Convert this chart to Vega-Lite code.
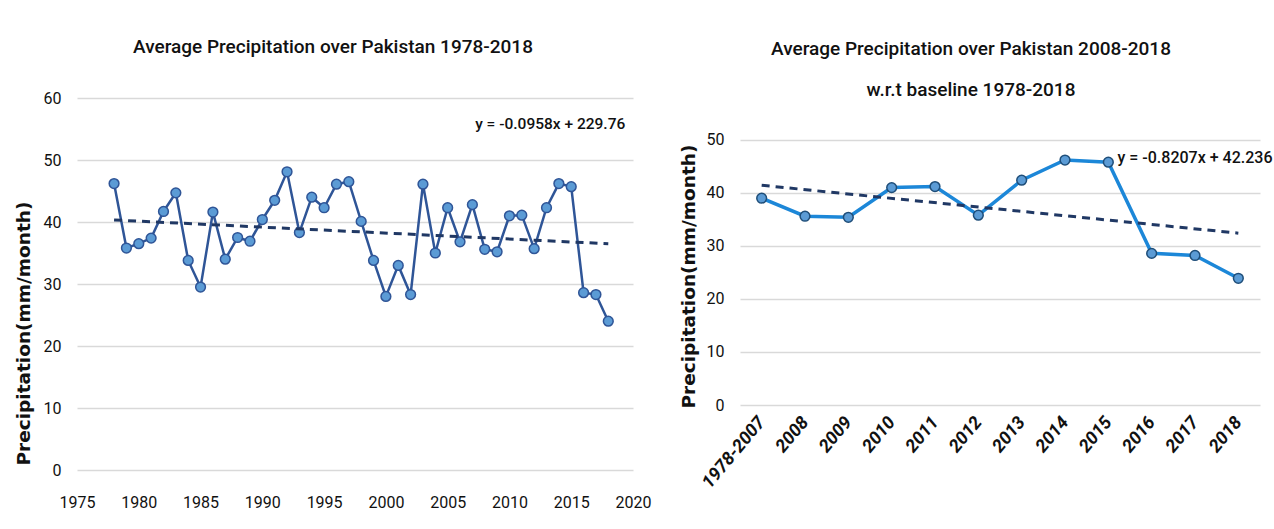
{
  "$schema": "https://vega.github.io/schema/vega-lite/v6.json",
  "background": "white",
  "padding": {"left": 14, "top": 38, "right": 12, "bottom": 5},
  "spacing": 28,
  "datasets": {
    "annual": [
      {"year": 1978, "value": 46.2}, {"year": 1979, "value": 35.8}, {"year": 1980, "value": 36.5},
      {"year": 1981, "value": 37.4}, {"year": 1982, "value": 41.7}, {"year": 1983, "value": 44.7},
      {"year": 1984, "value": 33.8}, {"year": 1985, "value": 29.5}, {"year": 1986, "value": 41.6},
      {"year": 1987, "value": 34.0}, {"year": 1988, "value": 37.5}, {"year": 1989, "value": 36.9},
      {"year": 1990, "value": 40.4}, {"year": 1991, "value": 43.5}, {"year": 1992, "value": 48.1},
      {"year": 1993, "value": 38.3}, {"year": 1994, "value": 44.0}, {"year": 1995, "value": 42.3},
      {"year": 1996, "value": 46.1}, {"year": 1997, "value": 46.5}, {"year": 1998, "value": 40.1},
      {"year": 1999, "value": 33.8}, {"year": 2000, "value": 28.0}, {"year": 2001, "value": 33.0},
      {"year": 2002, "value": 28.3}, {"year": 2003, "value": 46.1}, {"year": 2004, "value": 35.0},
      {"year": 2005, "value": 42.3}, {"year": 2006, "value": 36.8}, {"year": 2007, "value": 42.8},
      {"year": 2008, "value": 35.6}, {"year": 2009, "value": 35.2}, {"year": 2010, "value": 41.0},
      {"year": 2011, "value": 41.1}, {"year": 2012, "value": 35.7}, {"year": 2013, "value": 42.3},
      {"year": 2014, "value": 46.2}, {"year": 2015, "value": 45.7}, {"year": 2016, "value": 28.6},
      {"year": 2017, "value": 28.3}, {"year": 2018, "value": 24.0}
    ],
    "period": [
      {"i": 1, "period": "1978-2007", "value": 39.0}, {"i": 2, "period": "2008", "value": 35.6},
      {"i": 3, "period": "2009", "value": 35.4}, {"i": 4, "period": "2010", "value": 41.0},
      {"i": 5, "period": "2011", "value": 41.2}, {"i": 6, "period": "2012", "value": 35.8},
      {"i": 7, "period": "2013", "value": 42.4}, {"i": 8, "period": "2014", "value": 46.2},
      {"i": 9, "period": "2015", "value": 45.8}, {"i": 10, "period": "2016", "value": 28.6},
      {"i": 11, "period": "2017", "value": 28.2}, {"i": 12, "period": "2018", "value": 23.9}
    ],
    "eqLeft": [{"year": 2013.3, "value": 55.8, "label": "y = -0.0958x + 229.76"}],
    "eqRight": [{"i": 11.0, "value": 46.6, "label": "y = -0.8207x + 42.236"}]
  },
  "config": {
    "view": {"stroke": null},
    "font": "Roboto, sans-serif",
    "title": {"font": "Roboto, sans-serif", "fontSize": 19, "fontWeight": 500, "color": "#111111", "lineHeight": 41},
    "axis": {
      "domain": false, "ticks": false,
      "labelFont": "Roboto, sans-serif",
      "labelFontSize": 15, "labelColor": "#111111",
      "titleFont": "DejaVu Sans, sans-serif", "titleFontSize": 18.5, "titleFontWeight": "bold", "titleColor": "#111111",
      "gridColor": "#d9d9d9", "gridWidth": 1.5
    }
  },
  "hconcat": [
    {
      "width": 556, "height": 372,
      "title": {"text": "Average Precipitation over Pakistan 1978-2018", "offset": 33, "dx": -22},
      "layer": [
        {
          "data": {"name": "annual"},
          "mark": {"type": "line", "color": "#2F5597", "strokeWidth": 2.5,
                   "point": {"filled": true, "fill": "#5B9BD5", "stroke": "#2F5597", "strokeWidth": 1.5, "size": 95, "opacity": 1}},
          "encoding": {
            "x": {"field": "year", "type": "quantitative", "scale": {"domain": [1975, 2020], "nice": false, "zero": false},
                  "axis": {"values": [1975, 1980, 1985, 1990, 1995, 2000, 2005, 2010, 2015, 2020], "format": "d", "grid": false, "title": null, "labelPadding": 24, "labelFlush": false, "labelFontSize": 16}},
            "y": {"field": "value", "type": "quantitative", "scale": {"domain": [0, 60], "nice": false},
                  "axis": {"values": [0, 10, 20, 30, 40, 50, 60], "title": "Precipitation(mm/month)", "titleY": 235, "labelPadding": 16, "titlePadding": 10, "labelFontSize": 16}}
          }
        },
        {
          "data": {"name": "annual"},
          "transform": [{"regression": "value", "on": "year"}],
          "mark": {"type": "line", "color": "#203864", "strokeWidth": 3, "strokeDash": [8, 6]},
          "encoding": {
            "x": {"field": "year", "type": "quantitative"},
            "y": {"field": "value", "type": "quantitative"}
          }
        },
        {
          "data": {"name": "eqLeft"},
          "mark": {"type": "text", "fontSize": 15.5, "fontWeight": 500, "color": "#111111", "align": "center", "baseline": "middle"},
          "encoding": {
            "x": {"field": "year", "type": "quantitative"},
            "y": {"field": "value", "type": "quantitative"},
            "text": {"field": "label"}
          }
        }
      ]
    },
    {
      "width": 520, "height": 307,
      "title": {"text": ["Average Precipitation over Pakistan 2008-2018", "w.r.t baseline 1978-2018"], "offset": -2, "dx": -29},
      "layer": [
        {
          "data": {"name": "period"},
          "mark": {"type": "line", "color": "#1C87D8", "strokeWidth": 3.5,
                   "point": {"filled": true, "fill": "#5B9BD5", "stroke": "#1F4E79", "strokeWidth": 1.5, "size": 95, "opacity": 1}},
          "encoding": {
            "x": {"field": "i", "type": "quantitative", "scale": {"domain": [0.5, 12.5], "nice": false, "zero": false},
                  "axis": {"values": [1, 2, 3, 4, 5, 6, 7, 8, 9, 10, 11, 12], "grid": false, "title": null, "labelFlush": false,
                           "labelExpr": "datum.value == 1 ? '1978-2007' : '' + (2006 + datum.value)",
                           "labelAngle": -50, "labelAlign": "right", "labelBaseline": "middle", "labelPadding": 14,
                           "labelFontStyle": "italic", "labelFontWeight": "bold", "labelFontSize": 18}},
            "y": {"field": "value", "type": "quantitative", "scale": {"domain": [0, 57.9], "nice": false},
                  "axis": {"values": [0, 5, 10, 15, 20, 25, 30, 35, 40, 45, 50], "title": "Precipitation(mm/month)", "titleY": 178, "labelPadding": 16, "titlePadding": 8, "labelFontSize": 16}}
          }
        },
        {
          "data": {"name": "period"},
          "transform": [{"regression": "value", "on": "i"}],
          "mark": {"type": "line", "color": "#203864", "strokeWidth": 3, "strokeDash": [8, 6]},
          "encoding": {
            "x": {"field": "i", "type": "quantitative"},
            "y": {"field": "value", "type": "quantitative"}
          }
        },
        {
          "data": {"name": "eqRight"},
          "mark": {"type": "text", "fontSize": 16, "fontWeight": 500, "color": "#111111", "align": "center", "baseline": "middle"},
          "encoding": {
            "x": {"field": "i", "type": "quantitative"},
            "y": {"field": "value", "type": "quantitative"},
            "text": {"field": "label"}
          }
        }
      ]
    }
  ]
}
